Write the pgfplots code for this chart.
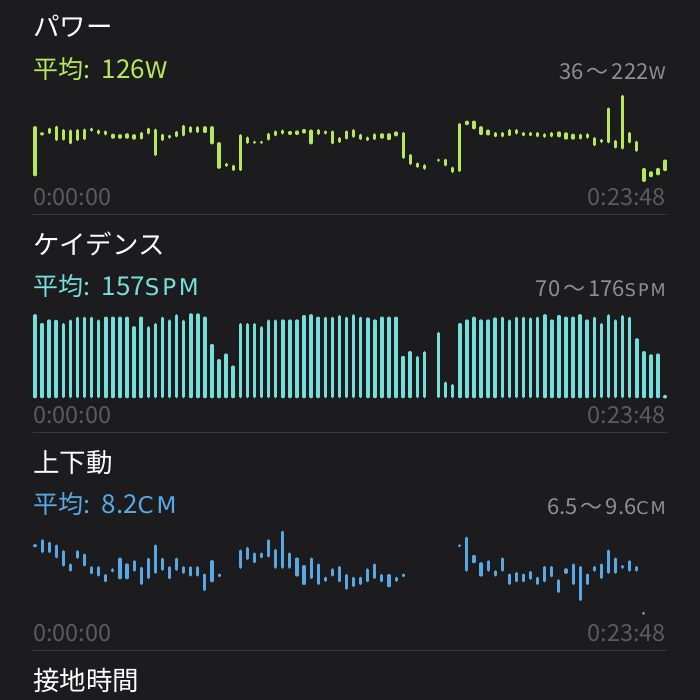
\documentclass[border=0pt]{standalone}
\usepackage{fontspec}
\setmainfont{Noto Sans CJK JP}
\newfontfamily\scf[LetterSpace=12]{DejaVu Sans}
\usepackage{pgfplots}
\usepackage{pgfplotstable}
\pgfplotsset{compat=1.18}

\definecolor{bg}{HTML}{1C1C1E}
\definecolor{pw}{HTML}{B6E85C}
\definecolor{cad}{HTML}{76DEDA}
\definecolor{vo}{HTML}{58A8E6}
\definecolor{rng}{HTML}{8E8E93}
\definecolor{tm}{HTML}{5B5B5F}
\definecolor{sep}{HTML}{38383A}

% power (W), one row per interval: low / high
\pgfplotstableread{
k lo hi
0 48 155
1 135 142
2 138 152
3 123 156
4 124 149
5 116 148
6 123 149
7 125 150
8 143 152
9 137 148
10 135 146
11 128 139
12 128 138
13 128 140
14 126 138
15 126 143
16 137 152
17 91 150
18 123 139
19 128 137
20 131 145
21 133 158
22 140 155
23 140 155
24 140 155
25 116 155
26 64 121
27 68 77
28 59 73
29 59 138
30 117 133
31 117 124
32 117 124
33 124 141
34 133 146
35 137 148
36 136 145
37 136 146
38 139 149
39 116 148
40 136 149
41 137 146
42 116 146
43 119 132
44 126 146
45 130 149
46 125 139
47 123 133
48 125 140
49 128 140
50 125 140
51 133 144
52 85 143
53 72 96
54 66 78
55 62 74
57 79 86
58 69 86
59 55 69
60 57 162
61 157 167
62 148 167
63 136 155
64 135 148
65 131 143
66 131 143
67 133 149
68 137 149
69 133 143
70 133 143
71 131 143
72 130 140
73 131 143
74 131 144
75 126 142
76 126 139
77 126 139
78 128 140
79 112 132
80 119 128
81 118 195
82 107 126
83 105 222
84 118 143
85 100 124
86 36 66
87 46 59
88 50 66
89 59 84
}\powerdata

% cadence (SPM)
\pgfplotstableread{
k lo hi
0 70 175
1 70 164
2 70 168.5
3 70 168
4 70 164
5 70 168.5
6 70 172
7 70 172
8 70 172
9 70 168.5
10 70 172
11 70 172
12 70 172
13 70 172
14 70 160
15 70 172
16 70 160
17 70 164
18 70 172
19 70 168.5
20 70 175
21 70 168
22 70 176
23 70 176
24 70 172
25 70 138
26 70 119
27 70 126
28 70 111
29 70 164
30 70 164
31 70 164
32 70 160
33 70 168.5
34 70 168.5
35 70 168.5
36 70 168.5
37 70 168.5
38 70 174
39 70 175
40 70 172
41 70 172
42 70 172
43 70 174
44 70 172
45 70 175
46 70 172
47 70 171
48 70 168.5
49 70 172
50 70 172
51 70 172
52 70 123
53 70 129
54 70 123
55 70 129
57 70 153
58 70 91
59 70 88
60 70 164
61 70 168.5
62 70 172
63 70 168.5
64 70 168.5
65 70 171
66 70 172
67 70 168.5
68 70 172
69 70 172
70 70 171
71 70 172
72 70 175
73 70 168.5
74 70 174
75 70 172
76 70 172
77 70 175
78 70 168.5
79 70 172
80 70 164
81 70 175
82 70 168.5
83 70 174
84 70 172
85 70 145
86 70 129
87 70 125
88 70 126
89 70 74
}\caddata

% vertical oscillation (cm)
\pgfplotstableread{
k lo hi
0 8.99 9.11
1 8.77 9.29
2 8.77 9.20
3 8.58 9.10
4 8.28 8.89
5 8.09 8.40
6 8.56 8.89
7 8.28 8.77
8 7.99 8.30
9 7.91 8.30
10 7.70 8.01
11 8.07 8.22
12 7.81 8.61
13 7.81 8.40
14 8.09 8.52
15 7.60 8.28
16 7.82 8.61
17 8.01 9.10
18 8.12 8.61
19 7.81 8.30
20 8.12 8.61
21 8.01 8.30
22 7.91 8.30
23 7.91 8.30
24 7.38 8.03
25 7.70 8.52
26 7.88 8.03
29 8.20 8.91
30 8.52 9.01
31 8.40 8.80
32 8.58 8.80
33 8.61 9.29
34 8.20 8.93
35 8.20 9.60
36 8.20 8.80
37 7.91 8.62
38 7.60 8.34
39 7.82 8.62
40 7.60 8.40
41 7.72 7.91
42 7.91 8.22
43 7.70 8.31
44 7.42 8.01
45 7.52 7.91
46 7.60 7.91
47 7.70 8.22
48 7.82 8.40
49 7.70 8.01
50 7.52 8.01
51 7.72 7.91
52 7.88 8.03
60 8.99 9.11
61 8.09 9.38
62 8.40 8.71
63 7.91 8.44
64 8.09 8.52
65 7.91 8.15
66 8.09 8.62
67 7.60 8.03
68 7.70 8.09
69 7.70 8.03
70 7.79 8.12
71 7.60 7.91
72 7.70 8.31
73 7.88 8.31
74 7.30 7.82
75 8.01 8.22
76 7.60 8.40
77 7.01 8.31
78 7.60 8.03
79 8.09 8.31
80 7.82 8.40
81 8.01 8.91
82 8.01 8.62
83 8.20 8.34
84 8.09 8.52
85 8.09 8.31
86 6.50 6.62
}\vodata

\pgfplotsset{
  panel/.style={scale only axis, width=630.1pt, xmin=0, xmax=89,
    enlargelimits=false, hide axis, clip=false, anchor=south west},
  rangebars/.style n args={2}{draw=none, mark=none, color=#1,
    error bars/y dir=plus, error bars/y explicit, error bars/error mark=none,
    error bars/error bar style={draw=#1, solid, line width=#2, line cap=round,
      shorten <=0.5*#2, shorten >=0.5*#2}},
}
\newcommand\ttl{\fontsize{26.5}{30}\selectfont}
\newcommand\avg{\fontsize{25}{28}\selectfont}
\newcommand\avgnum{\fontsize{26}{28}\selectfont}
\newcommand\avgsc{\scf\fontsize{23}{25}\selectfont}
\newcommand\rg{\fontsize{22}{24}\selectfont}
\newcommand\rgsc{\scf\fontsize{17.5}{20}\selectfont}
\newcommand\tl{\hspace{3pt}～\hspace{3pt}}
\newcommand\tmf{\fontsize{23.5}{26}\selectfont}
\newcommand\avgtxt[2]{平均:\hspace{4pt} {\avgnum #1}{\avgsc #2}}

\begin{document}
\begin{tikzpicture}[x=1pt,y=1pt]
\useasboundingbox (0,0) rectangle (700,700);
\fill[bg] (0,0) rectangle (700,700);

% ---- power
\node[anchor=base west, inner sep=0, text=white, font=\ttl] at (33,663) {パワー};
\node[anchor=base west, inner sep=0, text=pw, font=\avg] at (33,621.7) {\avgtxt{126}{W}};
\node[anchor=base east, inner sep=0, text=rng, font=\rg] at (666,620.7) {36\tl222{\rgsc W}};
\begin{axis}[panel, at={(35pt,518pt)}, height=87.3pt, ymin=36, ymax=222]
\addplot[rangebars={pw}{3.3pt}] table[x=k, y=lo, y error plus expr=\thisrow{hi}-\thisrow{lo}] {\powerdata};
\end{axis}
\node[anchor=base west, inner sep=0, text=tm, font=\tmf] at (33,494) {0:00:00};
\node[anchor=base east, inner sep=0, text=tm, font=\tmf] at (666,494) {0:23:48};
\draw[sep, line width=1pt] (33,485) -- (667,485);

% ---- cadence
\node[anchor=base west, inner sep=0, text=white, font=\ttl] at (33,445.3) {ケイデンス};
\node[anchor=base west, inner sep=0, text=cad, font=\avg] at (33,404) {\avgtxt{157}{SPM}};
\node[anchor=base east, inner sep=0, text=rng, font=\rg] at (666,403) {70\tl176{\rgsc SPM}};
\begin{axis}[panel, at={(35pt,301.7pt)}, height=85pt, ymin=70, ymax=176]
\addplot[rangebars={cad}{3.5pt}] table[x=k, y=lo, y error plus expr=\thisrow{hi}-\thisrow{lo}] {\caddata};
\end{axis}
\node[anchor=base west, inner sep=0, text=tm, font=\tmf] at (33,276.5) {0:00:00};
\node[anchor=base east, inner sep=0, text=tm, font=\tmf] at (666,276.5) {0:23:48};
\draw[sep, line width=1pt] (33,267.3) -- (667,267.3);

% ---- vertical oscillation
\node[anchor=base west, inner sep=0, text=white, font=\ttl] at (33,227) {上下動};
\node[anchor=base west, inner sep=0, text=vo, font=\avg] at (33,186.8) {\avgtxt{8.2}{CM}};
\node[anchor=base east, inner sep=0, text=rng, font=\rg] at (666,185.8) {6.5\tl9.6{\rgsc CM}};
\begin{axis}[panel, at={(35pt,85pt)}, height=84.3pt, ymin=6.5, ymax=9.6]
\addplot[rangebars={vo}{3.1pt}] table[x=k, y=lo, y error plus expr=\thisrow{hi}-\thisrow{lo}] {\vodata};
\end{axis}
\node[anchor=base west, inner sep=0, text=tm, font=\tmf] at (33,58.5) {0:00:00};
\node[anchor=base east, inner sep=0, text=tm, font=\tmf] at (666,58.5) {0:23:48};
\draw[sep, line width=1pt] (33,49.5) -- (667,49.5);

\node[anchor=base west, inner sep=0, text=white, font=\ttl] at (33,9.8) {接地時間};
\end{tikzpicture}
\end{document}
